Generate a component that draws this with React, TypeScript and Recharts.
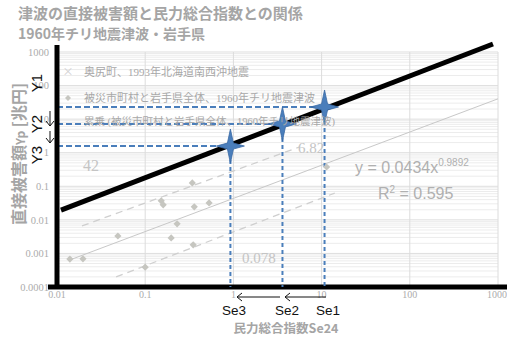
import { ComposedChart, XAxis, YAxis, Scatter, ReferenceLine } from 'recharts'

// tick values and labels
const xTicks = [0.01, 0.1, 1, 10, 100, 1000]
const xTickLabels = ['0.01', '0.1', '1', '10', '100', '1000']
const yTicks = [0.0001, 0.001, 0.01, 0.1, 1, 10, 100, 1000]
const yTickLabels = ['0.0001', '0.001', '0.01', '0.1', '1', '10', '100', '1000']

// 1960 Chile tsunami, Iwate: Se24 vs direct damage
const pointX = [0.014, 0.0197, 0.049, 0.1, 0.152, 0.16, 0.23, 0.197, 0.342, 0.36, 0.53, 0.35, 11.4]
const pointY = [0.00068, 0.00069, 0.0033, 0.00039, 0.037, 0.028, 0.0076, 0.0029, 0.126, 0.0244, 0.032, 0.0018, 0.375]

// trend line endpoints (y = 0.0434x^0.9892) and the two dashed bounds
const trendX = [0.014, 1000]
const trendY = [0.00064, 40.3]
const upperX = [0.0192, 5.6]
const upperY = [0.0066, 1.48]
const lowerX = [0.0468, 14.1]
const lowerY = [0.0002, 0.063]

// thick black line through the three stars
const boldX = [0.0111, 877]
const boldY = [0.0196, 1730]

// Se1, Se2, Se3
const seX = [10.8, 3.6, 0.925]
const seY = [23.0, 7.2, 1.58]

const points = pointX.map((x, i) => ({ x, y: pointY[i] }))
const stars = seX.map((x, i) => ({ x, y: seY[i] }))

const minorY: number[] = []
for (const d of [0.0001, 0.001, 0.01, 0.1, 1, 10, 100]) {
    for (let k = 2; k <= 9; k++) minorY.push(d * k)
}

const gray = '#c6c6c0'
const blue = '#4a7ebb'
const jp = '"Noto Sans CJK JP", "Noto Sans", sans-serif'
const serif = '"Liberation Serif", "Noto Sans CJK JP", serif'
const sans = '"Liberation Sans", sans-serif'

const Diamond = (props: any) => {
    const { cx, cy } = props
    const r = 3.6
    return <polygon points={`${cx},${cy - r} ${cx + r},${cy} ${cx},${cy + r} ${cx - r},${cy}`} fill={gray} />
}

const Star = (props: any) => {
    const { cx, cy } = props
    const w = 14, h = 17, s = 3
    const d = `M${cx},${cy - h} L${cx + s},${cy - s} L${cx + w},${cy} L${cx + s},${cy + s} L${cx},${cy + h} L${cx - s},${cy + s} L${cx - w},${cy} L${cx - s},${cy - s} Z`
    return <path d={d} fill={blue} stroke="#3a6aa5" strokeWidth={0.8} />
}

export default function App() {
    return (
        <div style={{ position: 'absolute', left: 0, top: 0, width: 507, height: 337, background: '#fff' }}>
            <ComposedChart width={507} height={337} margin={{ top: 45, right: 9, bottom: 20, left: 17 }}>
                <XAxis
                    type="number"
                    dataKey="x"
                    scale="log"
                    domain={[0.01, 1000]}
                    ticks={xTicks}
                    tickFormatter={(v: number) => xTickLabels[xTicks.indexOf(v)] ?? ''}
                    allowDataOverflow
                    axisLine={false}
                    tickLine={false}
                    tickSize={4}
                    tickMargin={0}
                    height={30}
                    tick={{ fill: '#acacac', fontSize: 10, fontFamily: serif }}
                />
                <YAxis
                    type="number"
                    dataKey="y"
                    scale="log"
                    domain={[0.0001, 1616]}
                    ticks={yTicks}
                    tickFormatter={(v: number) => yTickLabels[yTicks.indexOf(v)] ?? ''}
                    allowDataOverflow
                    axisLine={{ stroke: '#000', strokeWidth: 5 }}
                    tickLine={false}
                    width={40}
                    tick={{ fill: '#acacac', fontSize: 10.5, fontFamily: serif }}
                />
                {minorY.map((v) => (
                    <ReferenceLine key={'m' + v} y={v} stroke="#ececec" strokeWidth={1} />
                ))}
                {yTicks.map((v) => (
                    <ReferenceLine key={'h' + v} y={v} stroke="#dedede" strokeWidth={1} />
                ))}
                {xTicks.slice(1).map((v) => (
                    <ReferenceLine key={'v' + v} segment={[{ x: v, y: 0.0001 }, { x: v, y: 1000 }]} stroke="#dcdcdc" strokeWidth={1} />
                ))}
                <ReferenceLine segment={[{ x: trendX[0], y: trendY[0] }, { x: trendX[1], y: trendY[1] }]} stroke="#c8c8c8" strokeWidth={1} />
                <ReferenceLine segment={[{ x: upperX[0], y: upperY[0] }, { x: upperX[1], y: upperY[1] }]} stroke="#cfcfcf" strokeWidth={1.3} strokeDasharray="7 5" />
                <ReferenceLine segment={[{ x: lowerX[0], y: lowerY[0] }, { x: lowerX[1], y: lowerY[1] }]} stroke="#cfcfcf" strokeWidth={1.3} strokeDasharray="7 5" />
                <Scatter data={points} shape={Diamond} isAnimationActive={false} />
                <ReferenceLine ifOverflow="visible" segment={[{ x: boldX[0], y: boldY[0] }, { x: boldX[1], y: boldY[1] }]} stroke="#000" strokeWidth={5} />
                <ReferenceLine ifOverflow="visible" segment={[{ x: 0.0079, y: 0.0001 }, { x: 1270, y: 0.0001 }]} stroke="#000" strokeWidth={5} />
                {stars.map((p, i) => (
                    <ReferenceLine key={'sh' + i} segment={[{ x: 0.01, y: p.y }, { x: p.x, y: p.y }]} stroke={blue} strokeWidth={2} strokeDasharray="6 3" />
                ))}
                {stars.map((p, i) => (
                    <ReferenceLine key={'sv' + i} segment={[{ x: p.x, y: p.y }, { x: p.x, y: 0.0001 }]} stroke={blue} strokeWidth={2} strokeDasharray="4 3" />
                ))}
                <Scatter data={stars} shape={Star} isAnimationActive={false} />
            </ComposedChart>
            <svg width={507} height={337} style={{ position: 'absolute', left: 0, top: 0, pointerEvents: 'none' }}>
                <text x={18} y={19} fontSize={15} fontWeight="bold" fill="#a5a5a5" fontFamily={jp}>津波の直接被害額と民力総合指数との関係</text>
                <text x={18} y={39} fontSize={14} fontWeight="bold" fill="#a5a5a5" fontFamily={jp}>1960年チリ地震津波・岩手県</text>

                <text transform="translate(25,154) rotate(-90)" textAnchor="middle" fontSize={16} fontWeight="bold" fill="#a5a5a5" fontFamily={jp}>
                    直接被害額<tspan fontSize={12}>Yp</tspan> [兆円]
                </text>
                <text x={286} y={333} textAnchor="middle" fontSize={12.5} fontWeight="bold" fill="#a5a5a5" fontFamily={jp}>民力総合指数Se24</text>

                <text x={68} y={76} textAnchor="middle" fontSize={11} fill="#cfcfcf" fontFamily={jp}>×</text>
                <text x={84} y={76} fontSize={11} fill="#a8a8a8" fontFamily={serif}>奥尻町、1993年北海道南西沖地震</text>
                <polygon points="68,95 71,98 68,101 65,98" fill={gray} />
                <text x={84} y={102} fontSize={11} fill="#a8a8a8" fontFamily={serif}>被災市町村と岩手県全体、1960年チリ地震津波</text>
                <text x={84} y={125} fontSize={10.5} fill="#a8a8a8" fontFamily={serif}>累乗 (被災市町村と岩手県全体、1960年チリ地震津波)</text>

                <text x={355} y={173} fontSize={16} fill="#b0b0b0" fontFamily={sans}>
                    y = 0.0434x<tspan fontSize={10} dy={-7}>0.9892</tspan>
                </text>
                <text x={378} y={199} fontSize={16} fill="#b0b0b0" fontFamily={sans}>
                    R<tspan fontSize={10} dy={-6}>2</tspan><tspan dy={6}> = 0.595</tspan>
                </text>

                <text x={83} y={171} fontSize={16} fill="#c4c4c4" fontFamily={serif}>42</text>
                <text x={298} y={153} fontSize={15} fill="#c4c4c4" fontFamily={serif}>6.82</text>
                <text x={242} y={263} fontSize={15} fill="#c4c4c4" fontFamily={serif}>0.078</text>

                <text transform="translate(42,83) rotate(-90)" textAnchor="middle" fontSize={15} fill="#111" fontFamily={sans}>Y1</text>
                <text transform="translate(42,124) rotate(-90)" textAnchor="middle" fontSize={15} fill="#111" fontFamily={sans}>Y2</text>
                <text transform="translate(42,155) rotate(-90)" textAnchor="middle" fontSize={15} fill="#111" fontFamily={sans}>Y3</text>
                <g stroke="#111" strokeWidth={1} fill="none">
                    <path d="M50,111 L50,126 M46,121 L50,126 L54,121" />
                    <path d="M50,131 L50,143 M46,138 L50,143 L54,138" />
                    <path d="M280,297 L237,297 M242,293 L237,297 L242,301" />
                    <path d="M326,297 L285,297 M290,293 L285,297 L290,301" />
                </g>
                <text x={234} y={315} textAnchor="middle" fontSize={13.5} fill="#111" fontFamily={sans}>Se3</text>
                <text x={287} y={315} textAnchor="middle" fontSize={13.5} fill="#111" fontFamily={sans}>Se2</text>
                <text x={328} y={315} textAnchor="middle" fontSize={13.5} fill="#111" fontFamily={sans}>Se1</text>
            </svg>
        </div>
    )
}
